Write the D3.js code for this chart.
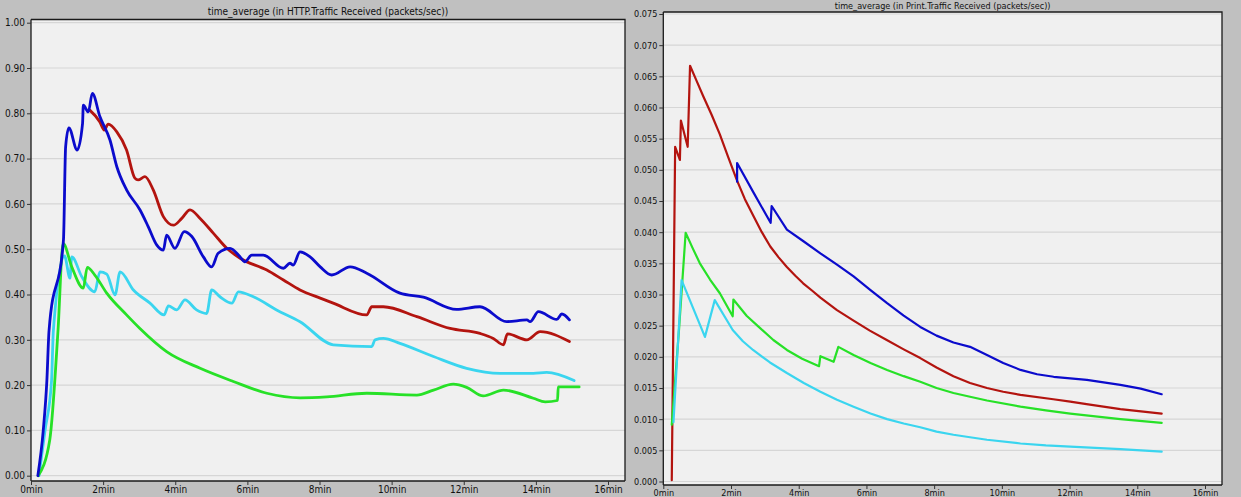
<!DOCTYPE html>
<html>
<head>
<meta charset="utf-8">
<script src="https://cdn.jsdelivr.net/npm/d3@7"></script>
<style>
  html, body { margin: 0; padding: 0; background: #c0c0c0; }
  svg { display: block; }
  text { font-family: "Liberation Sans Narrow", "DejaVu Sans Condensed", "Liberation Sans", Arial, sans-serif; fill: #111; }
</style>
</head>
<body>
<svg id="chart" width="1241" height="497"></svg>
<script>
// ---- HTTP traffic received, time average (packets/sec); [minutes, value]
const httpBlue = [
  [0.19,0.00],[0.34,0.10],[0.44,0.21],[0.50,0.32],[0.90,0.52],[0.96,0.726],[1.05,0.768],
  [1.28,0.719],[1.43,0.778],[1.45,0.818],[1.59,0.803],[1.70,0.844],[1.91,0.793],[2.19,0.741],
  [2.38,0.682],[2.65,0.631],[3.02,0.587],[3.25,0.55],[3.49,0.509],[3.67,0.498],[3.76,0.531],
  [3.99,0.502],[4.25,0.539],[4.46,0.528],[4.78,0.483],[5.01,0.461],[5.19,0.491],[5.52,0.502],
  [5.80,0.483],[5.93,0.472],[6.12,0.487],[6.44,0.487],[7.00,0.458],[7.18,0.469],[7.27,0.465],
  [7.46,0.494],[7.74,0.483],[8.02,0.461],[8.34,0.443],[8.85,0.461],[9.31,0.447],[10.23,0.403],
  [10.88,0.394],[11.80,0.367],[12.45,0.373],[13.19,0.340],[13.75,0.344],[13.84,0.340],
  [14.07,0.362],[14.58,0.345],[14.72,0.357],[14.93,0.344]
];
const httpRed = [
  [1.63,0.807],[1.91,0.781],[2.03,0.763],[2.14,0.776],[2.38,0.759],[2.65,0.719],[2.88,0.657],
  [2.97,0.653],[3.16,0.660],[3.39,0.631],[3.67,0.572],[3.95,0.553],[4.18,0.568],[4.41,0.587],
  [4.69,0.568],[5.06,0.535],[5.43,0.502],[5.80,0.480],[6.54,0.454],[7.00,0.432],[7.46,0.410],
  [8.02,0.392],[8.38,0.381],[9.31,0.355],[9.45,0.373],[9.77,0.373],[10.70,0.351],[11.62,0.325],
  [12.45,0.314],[12.82,0.303],[13.10,0.289],[13.21,0.313],[13.75,0.300],[14.12,0.318],[14.93,0.296]
];
const httpCyan = [
  [0.22,0.00],[0.39,0.10],[0.57,0.21],[0.62,0.32],[0.93,0.485],[1.08,0.436],[1.13,0.483],
  [1.41,0.439],[1.77,0.406],[1.91,0.450],[2.10,0.445],[2.33,0.399],[2.47,0.450],[2.84,0.410],
  [3.30,0.381],[3.69,0.355],[3.81,0.375],[4.04,0.366],[4.27,0.388],[4.59,0.366],[4.87,0.358],
  [5.01,0.410],[5.24,0.395],[5.57,0.381],[5.75,0.406],[6.17,0.395],[6.81,0.366],[7.46,0.340],
  [8.38,0.289],[9.45,0.285],[9.54,0.300],[9.77,0.303],[10.23,0.292],[11.16,0.263],[12.08,0.237],
  [13.01,0.226],[13.93,0.226],[14.30,0.228],[15.06,0.210]
];
const httpGreen = [
  [0.20,0.00],[0.52,0.079],[0.75,0.322],[0.89,0.513],[1.13,0.461],[1.45,0.414],[1.56,0.460],
  [1.77,0.443],[2.10,0.403],[2.65,0.355],[3.02,0.325],[3.76,0.274],[4.69,0.237],[5.61,0.208],
  [6.54,0.182],[7.46,0.172],[8.20,0.174],[9.31,0.182],[10.70,0.178],[11.16,0.189],[11.71,0.202],
  [12.08,0.195],[12.54,0.176],[13.10,0.189],[13.93,0.171],[14.26,0.163],[14.60,0.166],
  [14.62,0.196],[15.20,0.196]
];

// ---- Print traffic received, time average (packets/sec); [minutes, value]
const printRed = [
  [0.25,0.0002],[0.35,0.0537],[0.49,0.0516],[0.52,0.0579],[0.72,0.0537],[0.79,0.0667],
  [0.99,0.0642],[1.18,0.0618],[1.43,0.0588],[1.67,0.0557],[1.92,0.0520],[2.17,0.0484],
  [2.41,0.0453],[2.67,0.0425],[2.91,0.0400],[3.16,0.0377],[3.40,0.0360],[3.65,0.0344],
  [3.90,0.0330],[4.13,0.0318],[4.40,0.0306],[4.64,0.0295],[5.13,0.0275],[5.62,0.0258],
  [6.10,0.0242],[6.60,0.0227],[7.10,0.0212],[7.59,0.0198],[8.07,0.0183],[8.57,0.0169],
  [9.06,0.0158],[9.56,0.0150],[10.04,0.0144],[10.55,0.0139],[11.52,0.0132],[12.02,0.0128],
  [12.50,0.0124],[13.50,0.0116],[14.72,0.0109]
];
const printBlue = [
  [2.18,0.0481],[2.18,0.0511],[2.67,0.0463],[3.17,0.0415],[3.20,0.0442],[3.65,0.0404],
  [4.15,0.0385],[4.64,0.0366],[5.13,0.0348],[5.62,0.0329],[6.12,0.0307],[6.61,0.0286],
  [7.10,0.0266],[7.59,0.0248],[8.07,0.0234],[8.57,0.0223],[9.06,0.0216],[9.56,0.0203],
  [10.04,0.0190],[10.55,0.0179],[11.04,0.0172],[11.53,0.0168],[12.51,0.0163],
  [13.50,0.0155],[14.10,0.0149],[14.72,0.0140]
];
const printGreen = [
  [0.25,0.0091],[0.47,0.0248],[0.66,0.0399],[0.87,0.0374],[1.08,0.0350],[1.38,0.0324],
  [1.67,0.0302],[2.05,0.0265],[2.07,0.0292],[2.46,0.0266],[2.86,0.0246],[3.25,0.0227],
  [3.65,0.0211],[4.10,0.0197],[4.60,0.0185],[4.64,0.0201],[5.03,0.0192],[5.17,0.0216],
  [5.62,0.0203],[6.12,0.0190],[6.61,0.0179],[7.10,0.0169],[7.59,0.0160],[8.07,0.0150],
  [8.57,0.0142],[9.06,0.0136],[9.56,0.0130],[10.55,0.0120],[11.30,0.0114],[12.02,0.0109],
  [13.50,0.0100],[14.72,0.0094]
];
const printCyan = [
  [0.30,0.0095],[0.54,0.0323],[1.23,0.0232],[1.52,0.0291],[2.05,0.0243],[2.35,0.0225],
  [2.65,0.0211],[3.15,0.0191],[3.65,0.0174],[4.15,0.0158],[4.64,0.0144],[5.13,0.0131],
  [5.62,0.0120],[6.12,0.0109],[6.61,0.0100],[7.10,0.0093],[7.59,0.0087],[8.07,0.0080],
  [8.57,0.0075],[9.06,0.0071],[9.56,0.0067],[10.55,0.0061],[11.30,0.0058],[12.02,0.0056],
  [13.50,0.0052],[14.72,0.0048]
];

// ---- Axis ticks and labels
const minuteTicks = [0, 2, 4, 6, 8, 10, 12, 14, 16];
const httpTicks = [0, 0.1, 0.2, 0.3, 0.4, 0.5, 0.6, 0.7, 0.8, 0.9, 1.0];
const printTicks = [0, 0.005, 0.01, 0.015, 0.02, 0.025, 0.03, 0.035, 0.04, 0.045, 0.05, 0.055, 0.06, 0.065, 0.07, 0.075];
const httpTitle = "time_average (in HTTP.Traffic Received (packets/sec))";
const printTitle = "time_average (in Print.Traffic Received (packets/sec))";

const COLORS = { blue: "#0b0bcc", red: "#b3140f", cyan: "#3ad5ef", green: "#27e127" };

const svg = d3.select("#chart");

function panel(cfg) {
  const g = svg.append("g");
  // panel backdrop
  g.append("rect").attr("x", cfg.panel[0]).attr("y", 0)
    .attr("width", cfg.panel[1] - cfg.panel[0]).attr("height", 497).attr("fill", "#c0c0c0");

  const x = d3.scaleLinear().domain([0, 16]).range(cfg.xr);
  const y = d3.scaleLinear().domain(cfg.yd).range(cfg.yr);

  // plotting area
  g.append("rect").attr("x", cfg.box[0]).attr("y", cfg.box[1])
    .attr("width", cfg.box[2] - cfg.box[0]).attr("height", cfg.box[3] - cfg.box[1])
    .attr("fill", "#f0f0f0");

  // horizontal grid
  g.append("g").selectAll("line").data(cfg.yTicks).join("line")
    .attr("x1", cfg.box[0]).attr("x2", cfg.box[2])
    .attr("y1", d => y(d)).attr("y2", d => y(d))
    .attr("stroke", "#d6d6d6").attr("stroke-width", 1.2);

  // frame: top and right borders
  g.append("path")
    .attr("d", `M${cfg.box[0]},${cfg.box[1]}H${cfg.box[2]}V${cfg.box[3]}`)
    .attr("fill", "none").attr("stroke", "#1a1a1a").attr("stroke-width", 1.3);

  // series
  const line = d3.line().x(d => x(d[0])).y(d => y(d[1])).curve(cfg.curve);
  cfg.series.forEach(s => {
    g.append("path").datum(s.data).attr("d", line)
      .attr("fill", "none").attr("stroke", s.color)
      .attr("stroke-width", cfg.lw).attr("stroke-linejoin", "round").attr("stroke-linecap", "round");
  });

  // y axis
  const ya = d3.axisLeft(y).tickValues(cfg.yTicks).tickFormat(cfg.yFmt).tickSize(4).tickPadding(2);
  const yg = g.append("g").attr("transform", `translate(${cfg.box[0]},0)`).call(ya);
  yg.select(".domain").attr("d", `M0,${cfg.box[1]}V${cfg.box[3]}`).attr("stroke", "#1a1a1a").attr("stroke-width", 1.3);
  yg.selectAll("text").style("font-size", cfg.fs + "px").attr("fill", "#111");
  yg.selectAll(".tick line").attr("stroke", "#333");

  // x axis
  const xa = d3.axisBottom(x).tickValues(minuteTicks).tickFormat(d => d + "min").tickSize(4).tickPadding(1);
  const xg = g.append("g").attr("transform", `translate(0,${cfg.box[3]})`).call(xa);
  xg.select(".domain").attr("d", `M${cfg.box[0]},0H${cfg.box[2]}`).attr("stroke", "#1a1a1a").attr("stroke-width", 1.3);
  xg.selectAll("text").style("font-size", cfg.fs + "px").attr("fill", "#111");
  xg.selectAll(".tick line").attr("stroke", "#333");

  // title
  g.append("text").attr("x", (cfg.box[0] + cfg.box[2]) / 2).attr("y", cfg.titleY)
    .attr("text-anchor", "middle").style("font-size", cfg.titleFs + "px")
    .text(cfg.title);
}

panel({
  panel: [0, 629],
  box: [31, 19.5, 625, 481],
  xr: [31, 608],
  yd: [0, 1], yr: [475.7, 22.7],
  yTicks: httpTicks, yFmt: d3.format(".2f"),
  fs: 10, titleFs: 10, titleY: 15, title: httpTitle,
  lw: 2.8, curve: d3.curveMonotoneX,
  series: [
    { data: httpCyan, color: COLORS.cyan },
    { data: httpGreen, color: COLORS.green },
    { data: httpRed, color: COLORS.red },
    { data: httpBlue, color: COLORS.blue }
  ]
});

panel({
  panel: [633, 1241],
  box: [663.3, 12, 1222, 485],
  xr: [663.3, 1205],
  yd: [0, 0.075], yr: [481.5, 14],
  yTicks: printTicks, yFmt: d3.format(".3f"),
  fs: 9, titleFs: 9, titleY: 9, title: printTitle,
  lw: 2.2, curve: d3.curveLinear,
  series: [
    { data: printRed, color: COLORS.red },
    { data: printBlue, color: COLORS.blue },
    { data: printGreen, color: COLORS.green },
    { data: printCyan, color: COLORS.cyan }
  ]
});
</script>
</body>
</html>
